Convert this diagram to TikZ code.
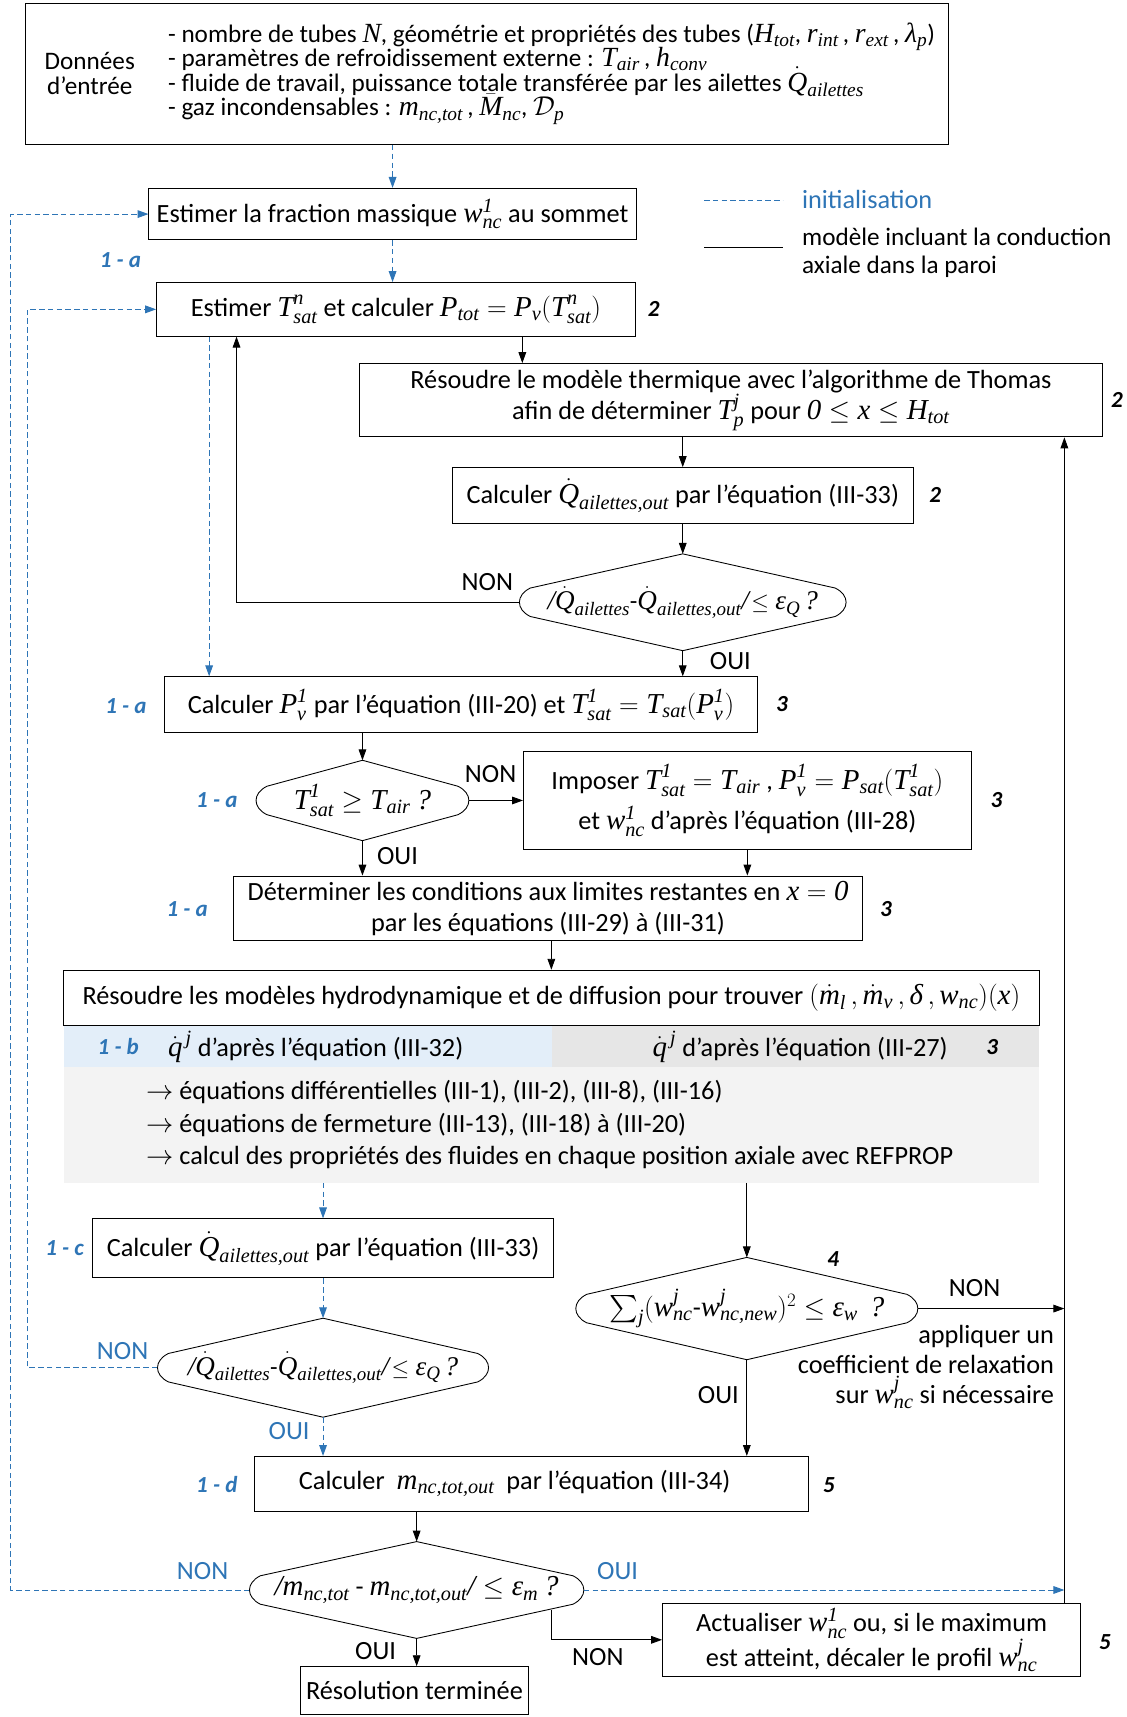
\documentclass[tikz,border=0pt]{standalone}
\usepackage{amsmath}
\usepackage{fontspec}
\setmainfont{Carlito}
\newfontfamily\tms{Liberation Serif}[Scale=1.1]
\usetikzlibrary{arrows.meta,calc}
\definecolor{ib}{RGB}{46,117,182}
\definecolor{bandblue}{RGB}{227,238,249}
\definecolor{bandgrey}{RGB}{230,230,230}
\definecolor{areagrey}{RGB}{243,243,243}
\newcommand\myfs{\fontsize{24}{26}\selectfont}
\newcommand\tightfs{\fontsize{23}{22.5}\selectfont\lineskiplimit=-30pt\relax}
\newcommand\tv[1]{\text{\tms\itshape #1}}
\newcommand\sub[2]{\tv{#1}_{\tv{#2}}}
\newcommand\wnc[1]{\tv{w}_{\tv{nc}}^{\tv{#1}}}
\newcommand\Tsat[1]{\tv{T}_{\tv{sat}}^{\tv{#1}}}
\newcommand\Pv[1]{\tv{P}_{\tv{v}}^{\tv{#1}}}
\newcommand\Qd[1]{\dot{\tv{Q}}_{\tv{#1}}}
\newcommand\hexd[1]{\draw[line width=0.8pt] (#1.north) -- ($(#1.west)+(10,-13)$) .. controls ($(#1.west)+(-3.3,-6.5)$) and ($(#1.west)+(-3.3,6.5)$) .. ($(#1.west)+(10,13)$) -- (#1.south) -- ($(#1.east)+(-10,13)$) .. controls ($(#1.east)+(3.3,6.5)$) and ($(#1.east)+(3.3,-6.5)$) .. ($(#1.east)+(-10,-13)$) -- cycle;}
\begin{document}
\begin{tikzpicture}[x=1pt,y=-1pt,
 every node/.append style={font=\myfs},
 box/.style={draw,line width=0.8pt,align=center,inner sep=0pt},
 arr/.style={line width=0.8pt,-{Triangle[length=10pt,width=7pt]}},
 ln/.style={line width=0.8pt},
 init/.style={draw=ib,line width=0.9pt,dash pattern=on 5pt off 3pt,-{Triangle[length=10pt,width=7pt]}},
 initl/.style={draw=ib,line width=0.9pt,dash pattern=on 5pt off 3pt},
 ilab/.style={text=ib,font=\fontsize{21}{24}\selectfont\bfseries\itshape},
 num/.style={font=\fontsize{21}{24}\selectfont\bfseries\itshape},
 blab/.style={text=ib},
 tight/.style={font=\tightfs}]
\useasboundingbox (0,0) rectangle (1029,1568);

% top box
\node[box,minimum width=843pt,minimum height=129pt] (top) at (444.5,67.5) {};
\node[align=center,tight] (don) at (82,67) {Données\\d’entrée};
\node[align=left,anchor=west,tight] (items) at (150,67) {- nombre de tubes $\tv{N}$, géométrie et propriétés des tubes ($\sub{H}{tot}$, $\sub{r}{int}$\,, $\sub{r}{ext}$\,, $\sub{λ}{p}$)\\- paramètres de refroidissement externe : $\sub{T}{air}$\,, $\sub{h}{conv}$\\- fluide de travail, puissance totale transférée par les ailettes $\Qd{ailettes}$\\- gaz incondensables : $\sub{m}{nc,tot}$\,, $\bar{\tv{M}}_{\tv{nc}}$, $\mathcal{D}_{\tv{p}}$};

% wfrac
\node[box,minimum width=445pt,minimum height=47pt] (wfrac) at (358.5,195.5) {Estimer la fraction massique $\wnc{1}$ au sommet};
\draw[init] (wfrac.north |- top.south) -- (wfrac.north);

% legend
\coordinate (lg1) at (643,183); \coordinate (lg2) at (715,183);
\draw[initl] (lg1) -- (lg2);
\node[anchor=west,text=ib] (lgt1) at (729,182) {initialisation};
\coordinate (lg3) at (643,226); \coordinate (lg4) at (715,226);
\draw[ln] (lg3) -- (lg4);
\node[anchor=west,align=left,font=\fontsize{23}{26}\selectfont] (lgt2) at (729,231) {modèle incluant la conduction\\axiale dans la paroi};

\node[ilab] (la1) at (110,238) {1 - a};

% tsat
\node[box,minimum width=437pt,minimum height=49pt] (tsat) at (361.5,282.5) {Estimer $\Tsat{n}$ et calculer $\sub{P}{tot}=\sub{P}{v}(\Tsat{n})$};
\node[num] (n2a) at (597,282) {2};
\draw[init] (wfrac.south) -- (wfrac.south |- tsat.north);

% thermal
\node[box,minimum width=679pt,minimum height=67pt] (thermal) at (667.5,365.5) {Résoudre le modèle thermique avec l’algorithme de Thomas\\afin de déterminer $\tv{T}_{\tv{p}}^{\tv{j}}$ pour $\tv{0}\le \tv{x}\le \sub{H}{tot}$};
\node[num] (n2b) at (1020,365) {2};
\coordinate (c477) at (477,0);
\draw[arr] (c477 |- tsat.south) -- (c477 |- thermal.north);

% qout1
\node[box,minimum width=421pt,minimum height=51pt] (qout1) at (623.5,452.5) {Calculer $\Qd{ailettes,out}$ par l’équation (III-33)};
\node[num] (n2c) at (854,452) {2};
\draw[arr] (qout1.north |- thermal.south) -- (qout1.north);

% d1
\node[minimum width=298pt,minimum height=88pt,inner sep=0pt,font=\fontsize{22.5}{26}\selectfont] (d1) at (623.5,550) {$\tv{/}\Qd{ailettes}$-$\Qd{ailettes,out}\tv{/}\!\le\sub{ε}{Q}$\,\tv{?}};
\hexd{d1}
\draw[arr] (qout1.south) -- (d1.north);
\node (non1) at (445,532) {NON};
\coordinate (c216) at (216,0);
\draw[arr] (d1.west) -| (c216 |- tsat.south);
\node (oui1) at (667,604) {OUI};

% pv
\node[box,minimum width=542pt,minimum height=51pt] (pv) at (421,643.5) {Calculer $\Pv{1}$ par l’équation (III-20) et $\Tsat{1}=\sub{T}{sat}(\Pv{1})$};
\draw[arr] (d1.south) -- (d1.south |- pv.north);
\node[ilab] (la2) at (115,645) {1 - a};
\node[num] (n3a) at (714,643) {3};
\coordinate (c191) at (191,0);
\draw[init] (c191 |- tsat.south) -- (c191 |- pv.north);

% d2
\node[minimum width=194pt,minimum height=73pt,inner sep=0pt] (d2) at (331,731) {$\Tsat{1}\ge \sub{T}{air}$ \tv{?}};
\hexd{d2}
\draw[arr] (d2.north |- pv.south) -- (d2.north);
\node[ilab] (la3) at (198,731) {1 - a};
\node (non2) at (448,707) {NON};

% impose
\node[box,minimum width=409pt,minimum height=90pt] (impose) at (682.5,731) {Imposer $\Tsat{1}=\sub{T}{air}$ , $\Pv{1}=\sub{P}{sat}(\Tsat{1})$\\[8pt]et $\wnc{1}$ d’après l’équation (III-28)};
\node[num] (n3b) at (910,731) {3};
\draw[arr] (d2.east) -- (impose.west);

% limits
\node[box,minimum width=575pt,minimum height=59pt] (limits) at (500.5,829.5) {Déterminer les conditions aux limites restantes en $\tv{x}=\tv{0}$\\[2pt]par les équations (III-29) à (III-31)};
\node[ilab] (la4) at (171,830) {1 - a};
\node[num] (n3c) at (809,830) {3};
\draw[arr] (d2.south) -- (d2.south |- limits.north);
\node (oui2) at (363,782) {OUI};
\draw[arr] (impose.south) -- (impose.south |- limits.north);

% bands
\node[fill=bandblue,minimum width=446pt,minimum height=38pt,inner sep=0pt] (bandb) at (281,955) {};
\node[fill=bandgrey,minimum width=445pt,minimum height=38pt,inner sep=0pt] (bandg) at (726.5,955) {};
\node[fill=areagrey,minimum width=891pt,minimum height=106pt,inner sep=0pt] (area) at (503.5,1027) {};

% hydro
\node[box,minimum width=891pt,minimum height=50pt] (hydro) at (503.5,911) {Résoudre les modèles hydrodynamique et de diffusion pour trouver $(\dot{\tv{m}}_{\tv{l}}\,,\dot{\tv{m}}_{\tv{v}}\,,\tv{δ}\,,\sub{w}{nc})(\tv{x})$};
\draw[arr] (hydro.north |- limits.south) -- (hydro.north);

\node[ilab] (lb) at (108,956) {1 - b};
\node[anchor=west] (qb) at (150,956) {$\dot{\tv{q}}^{\,\tv{j}}$ d’après l’équation (III-32)};
\node[anchor=east] (qg) at (869,956) {$\dot{\tv{q}}^{\,\tv{j}}$ d'après l’équation (III-27)};
\node[num] (n3d) at (906,956) {3};
\node[anchor=west,align=left] (alist) at (130,1027) {$\rightarrow$ équations différentielles (III-1), (III-2), (III-8), (III-16)\\[3.5pt]$\rightarrow$ équations de fermeture (III-13), (III-18) à (III-20)\\[3.5pt]$\rightarrow$ calcul des propriétés des fluides en chaque position axiale avec REFPROP};

% qout2
\node[box,minimum width=421pt,minimum height=54pt] (qout2) at (295,1140) {Calculer $\Qd{ailettes,out}$ par l’équation (III-33)};
\node[ilab] (lc) at (59,1140) {1 - c};
\draw[init] (qout2.north |- area.south) -- (qout2.north);

% d3
\node[minimum width=302pt,minimum height=90pt,inner sep=0pt,font=\fontsize{22.5}{26}\selectfont] (d3) at (295,1249) {$\tv{/}\Qd{ailettes}$-$\Qd{ailettes,out}\tv{/}\!\le\sub{ε}{Q}$\,\tv{?}};
\hexd{d3}
\draw[init] (qout2.south) -- (d3.north);
\node[blab] (non3) at (112,1234) {NON};
\node[blab] (oui3) at (264,1307) {OUI};
\coordinate (c25) at (25,0);
\draw[init] (d3.west) -| (c25 |- tsat.west) -- (tsat.west);

% d4
\node[minimum width=312pt,minimum height=93pt,inner sep=0pt] (d4) at (682,1195) {$\sum_{\tv{j}}(\wnc{j}\text{-}\tv{w}_{\tv{nc,new}}^{\tv{j}})^2\le\sub{ε}{w}$ \ \tv{?}};
\hexd{d4}
\draw[arr] (d4.north |- area.south) -- (d4.north);
\node[num] (n4) at (761,1150) {4};
\node (non4) at (890,1176) {NON};
\node (oui4) at (656,1274) {OUI};
\node[align=right,anchor=east] (relax) at (966,1248) {appliquer un\\[1.5pt]coefficient de relaxation\\[1.5pt]sur $\wnc{j}$ si nécessaire};
\coordinate (vl) at (972,0);
\draw[arr] (d4.east) -- (d4.east -| vl);

% mout
\node[box,minimum width=506pt,minimum height=50pt] (mout) at (485,1355) {Calculer \ $\sub{m}{nc,tot,out}$ \ par l’équation (III-34)\hspace*{30pt}};
\node[ilab] (ld) at (198,1356) {1 - d};
\node[num] (n5a) at (757,1356) {5};
\draw[arr] (d4.south) -- (d4.south |- mout.north);
\draw[init] (d3.south) -- (d3.south |- mout.north);

% d5
\node[minimum width=305pt,minimum height=88pt,inner sep=0pt] (d5) at (380.5,1452) {$\tv{/}\sub{m}{nc,tot}$ - $\sub{m}{nc,tot,out}\tv{/}\le\sub{ε}{m}$ \tv{?}};
\hexd{d5}
\draw[arr] (d5.north |- mout.south) -- (d5.north);
\node[blab] (non5) at (185,1435) {NON};
\node[blab] (oui5) at (564,1435) {OUI};
\coordinate (c10) at (10,0);
\draw[init] (d5.west) -| (c10 |- wfrac.west) -- (wfrac.west);
\draw[init] (d5.east) -- (d5.east -| vl);

% act
\node[box,minimum width=382pt,minimum height=67pt] (act) at (796,1497.5) {Actualiser $\wnc{1}$ ou, si le maximum\\[0pt]est atteint, décaler le profil $\wnc{j}$};
\node[num] (n5b) at (1009,1500) {5};
\coordinate (c503) at ($(d5.east)+(-30,18)$);
\draw[arr] (c503) |- (act.west);
\node (non6) at (546,1513) {NON};
\draw[arr] (act.north -| vl) -- (thermal.south -| vl);

% fin
\node[box,minimum width=209pt,minimum height=44pt] (fin) at (378.5,1544) {Résolution terminée};
\draw[arr] (d5.south) -- (d5.south |- fin.north);
\node (oui6) at (343,1508) {OUI};
\end{tikzpicture}
\end{document}
